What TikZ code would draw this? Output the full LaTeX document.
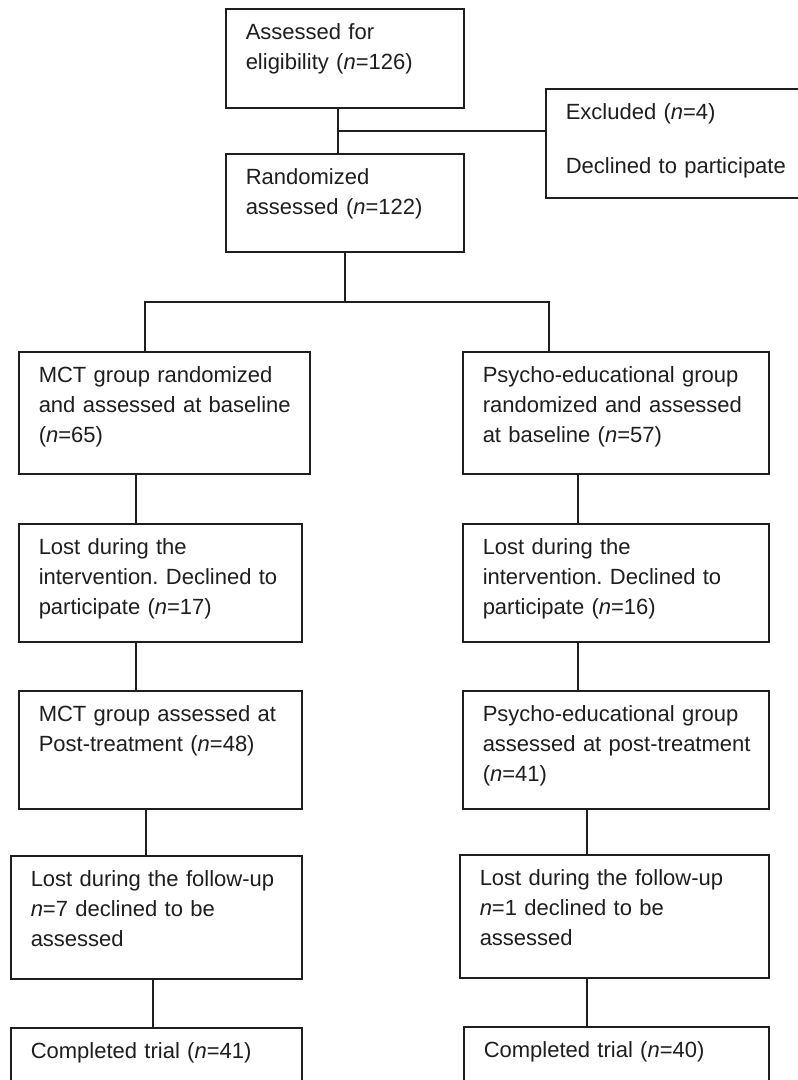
\documentclass[tikz,border=0pt]{standalone}
\usepackage{fontspec}
\setmainfont{Liberation Sans}
\definecolor{ink}{HTML}{1E1E1E}
\newcommand{\ml}[1]{\mbox{#1}}
\begin{document}
\begin{tikzpicture}[x=1pt,y=-1pt,
  bx/.style={draw=ink, line width=1.5pt, rectangle, anchor=north west,
    inner xsep=20pt, inner ysep=0pt, align=left, text height=31pt,
    text=ink, font=\fontsize{22}{30}\selectfont\frenchspacing},
  ln/.style={draw=ink, line width=1.5pt}]
\useasboundingbox (0,0) rectangle (798,1080);
\fill[white] (0,0) rectangle (798,1080);
% top
\node[bx, text width=198pt, text depth=68pt] (b1) at (225,8) {\ml{Assessed for}\\\ml{eligibility (\textit{n}=126)}};
\node[bx, text width=198pt, text depth=67pt] (b2) at (225,153) {\ml{Randomized}\\\ml{assessed (\textit{n}=122)}};
\node[bx, text width=230pt, text depth=78pt] (ex) at (545,88) {\ml{Excluded (\textit{n}=4)}\\[24pt]\ml{Declined to participate}};
% left column
\node[bx, text width=251pt, text depth=91pt] (c1) at (18,351) {\ml{MCT group randomized}\\\ml{and assessed at baseline}\\\ml{(\textit{n}=65)}};
\node[bx, text width=243pt, text depth=87pt] (c2) at (18,523) {\ml{Lost during the}\\\ml{intervention. Declined to}\\\ml{participate (\textit{n}=17)}};
\node[bx, text width=243pt, text depth=87pt] (c3) at (18,690) {\ml{MCT group assessed at}\\\ml{Post-treatment (\textit{n}=48)}};
\node[bx, text width=251pt, text depth=92pt] (c4) at (10,855) {\ml{Lost during the follow-up}\\\ml{\textit{n}=7 declined to be}\\\ml{assessed}};
\node[bx, text width=251pt, text depth=69pt] (c5) at (10,1027) {\ml{Completed trial (\textit{n}=41)}};
% right column
\node[bx, text width=266pt, text depth=91pt] (d1) at (462,351) {\ml{Psycho-educational group}\\\ml{randomized and assessed}\\\ml{at baseline (\textit{n}=57)}};
\node[bx, text width=266pt, text depth=87pt] (d2) at (462,523) {\ml{Lost during the}\\\ml{intervention. Declined to}\\\ml{participate (\textit{n}=16)}};
\node[bx, text width=266pt, text depth=87pt] (d3) at (462,690) {\ml{Psycho-educational group}\\\ml{assessed at post-treatment}\\\ml{(\textit{n}=41)}};
\node[bx, text width=269pt, text depth=92pt] (d4) at (459,854) {\ml{Lost during the follow-up}\\\ml{\textit{n}=1 declined to be}\\\ml{assessed}};
\node[bx, text width=265pt, text depth=69pt] (d5) at (463,1026) {\ml{Completed trial (\textit{n}=40)}};
% connector positions
\coordinate (xa) at (338,0);
\coordinate (xb) at (345,0);
\coordinate (ya) at (0,131);
\coordinate (yb) at (0,302);
\coordinate (xl1) at (145,0);
\coordinate (xr1) at (549,0);
\coordinate (xl2) at (136,0);
\coordinate (xr2) at (578,0);
\coordinate (xl3) at (146,0);
\coordinate (xr3) at (587,0);
\coordinate (xl4) at (153,0);
% connectors
\draw[ln] (b1.south -| xa) -- (b2.north -| xa);
\draw[ln] (xa |- ya) -- (ex.west |- ya);
\draw[ln] (b2.south -| xb) -- (xb |- yb);
\draw[ln] (c1.north -| xl1) -- (xl1 |- yb) -- (xr1 |- yb) -- (d1.north -| xr1);
\draw[ln] (c1.south -| xl2) -- (c2.north -| xl2);
\draw[ln] (c2.south -| xl2) -- (c3.north -| xl2);
\draw[ln] (c3.south -| xl3) -- (c4.north -| xl3);
\draw[ln] (c4.south -| xl4) -- (c5.north -| xl4);
\draw[ln] (d1.south -| xr2) -- (d2.north -| xr2);
\draw[ln] (d2.south -| xr2) -- (d3.north -| xr2);
\draw[ln] (d3.south -| xr3) -- (d4.north -| xr3);
\draw[ln] (d4.south -| xr3) -- (d5.north -| xr3);
\end{tikzpicture}
\end{document}
